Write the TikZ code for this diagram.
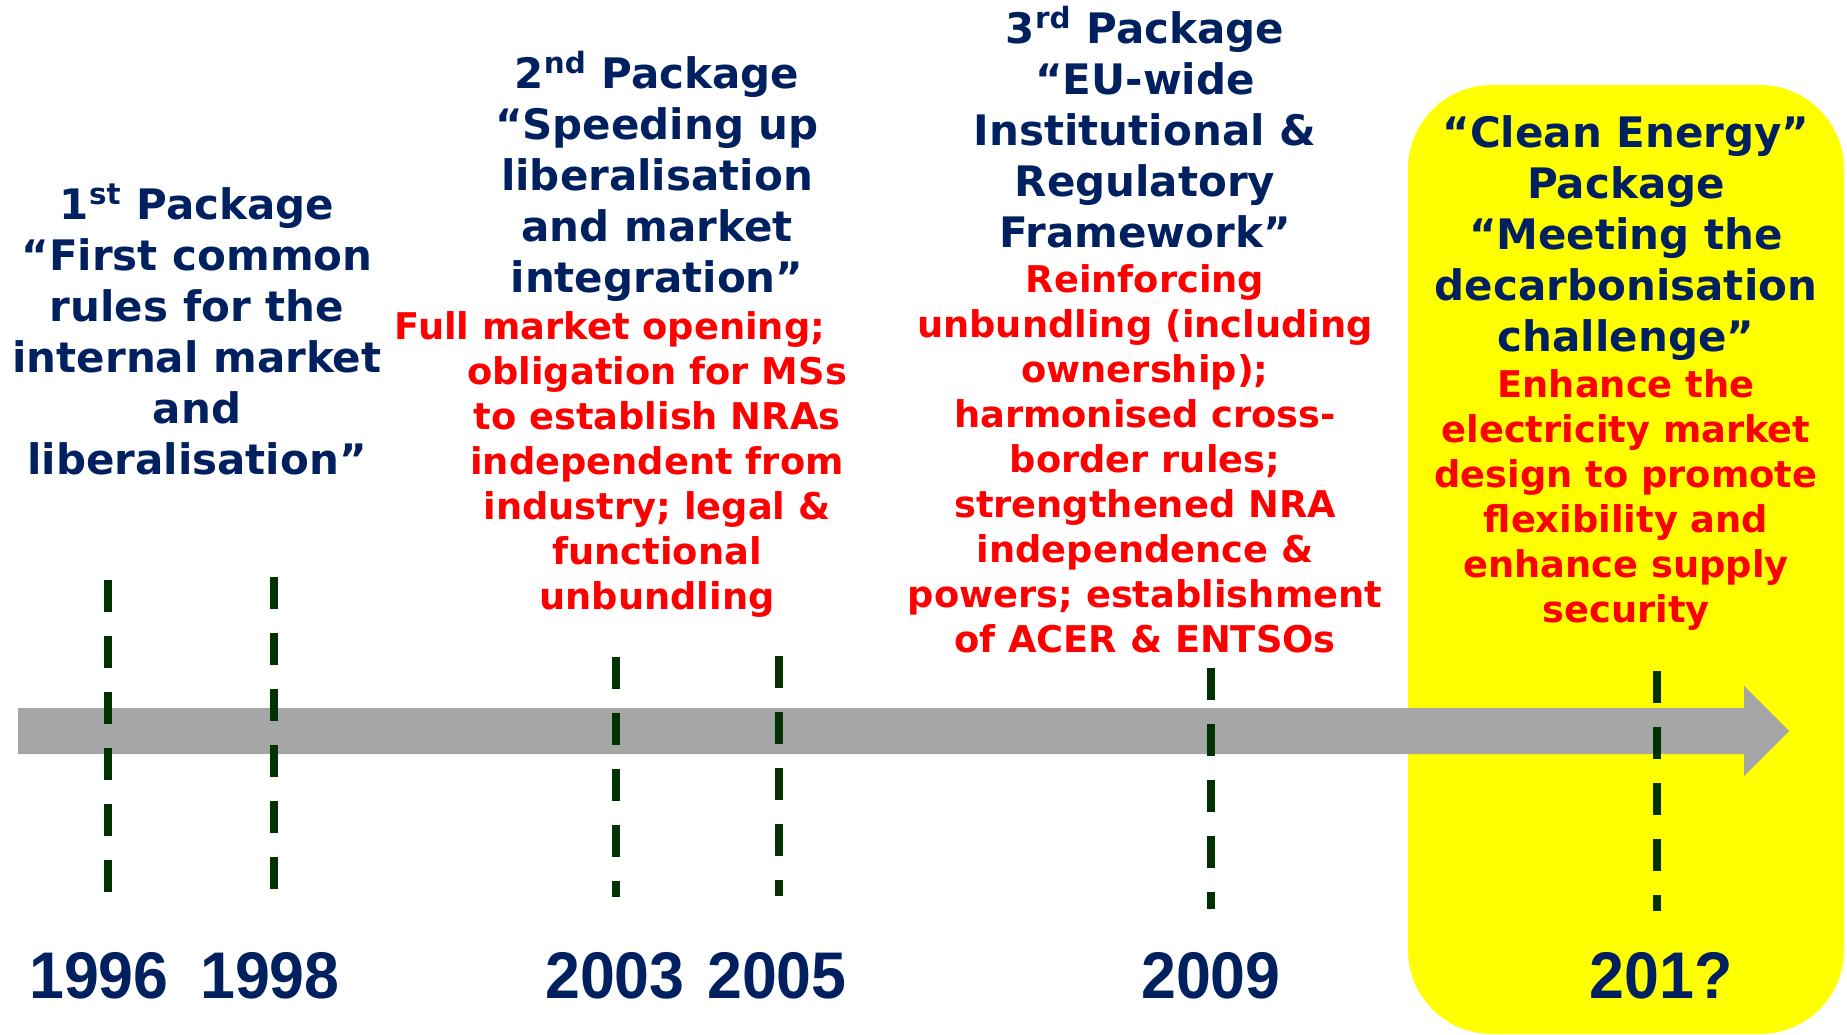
\documentclass[tikz,border=0pt]{standalone}
\usepackage{fontspec}
\setmainfont{DejaVu Sans}
\newfontfamily\yearfont[FakeStretch=0.95]{Liberation Sans}
\usepackage{xcolor}
\definecolor{navy}{RGB}{0,32,96}
\definecolor{darkgreen}{RGB}{0,51,0}
\definecolor{axisgrey}{RGB}{166,166,166}
\definecolor{boxyellow}{RGB}{255,255,0}

\begin{document}
\begin{tikzpicture}[x=0.5pt, y=-0.5pt]
    \begin{scope}[every node/.style={inner sep=0, outer sep=0, align=center}, pkg/.style={text=navy, font=\bfseries\fontsize{21}{25.5}\selectfont}, detail/.style={text=red, font=\bfseries\fontsize{18.4}{22.5}\selectfont}, yr/.style={text=navy, font=\yearfont\bfseries\fontsize{33}{36}\selectfont}, yearline/.style={darkgreen, line width=4pt, dash pattern=on 16pt off 12pt}]
        \useasboundingbox (0,0) rectangle (1847,1034);
        \fill [boxyellow, rounded corners=42pt] (1408,85) rectangle (1844,1034);
        \fill [axisgrey] (18,708) -- (1744,708) -- (1744,686) -- (1789,731) -- (1744,776) -- (1744,754) -- (18,754) -- cycle;
        \foreach \n/\x/\ya/\yb/\xl/\lab in {96/108/580/892/99/1996, 98/274/577/889/270/1998, 03/616/657/897/615/2003, 05/779/656/896/777/2005, 09/1211/668/909/1211/2009, 1x/1657/671/911/1661/201?} {
            \coordinate (top\n) at (\x,\ya);
            \coordinate (bot\n) at (\x,\yb);
            \draw [yearline] (top\n) -- (bot\n);
            \node [yr] (y\n) at (\xl,976) {\lab};
        }
        \node [pkg] (p1) at (197,329) {1\textsuperscript{st} Package\\“First common\\rules for the\\internal market\\and\\liberalisation”};
        \node [pkg] (p2) at (657,176) {2\textsuperscript{nd} Package\\“Speeding up\\liberalisation\\and market\\integration”};
        \node [detail] (d2) at (657,464) {Full market opening;\hspace*{47pt}\\obligation for MSs\\to establish NRAs\\independent from\\industry; legal \&\\functional\\unbundling};
        \node [pkg] (p3) at (1145,127) {3\textsuperscript{rd} Package\\“EU-wide\\Institutional \&\\Regulatory\\Framework”};
        \node [detail] (d3) at (1145,459) {Reinforcing\\unbundling (including\\ownership);\\harmonised cross-\\border rules;\\strengthened NRA\\independence \&\\powers; establishment\\of ACER \& ENTSOs};
        \node [pkg] (p4) at (1626,238) {“Clean Energy”\\Package\\“Meeting the\\decarbonisation\\challenge”};
        \node [detail] (d4) at (1626,500) {Enhance the\\electricity market\\design to promote\\flexibility and\\enhance supply\\security};
    \end{scope}
\end{tikzpicture}
\end{document}
